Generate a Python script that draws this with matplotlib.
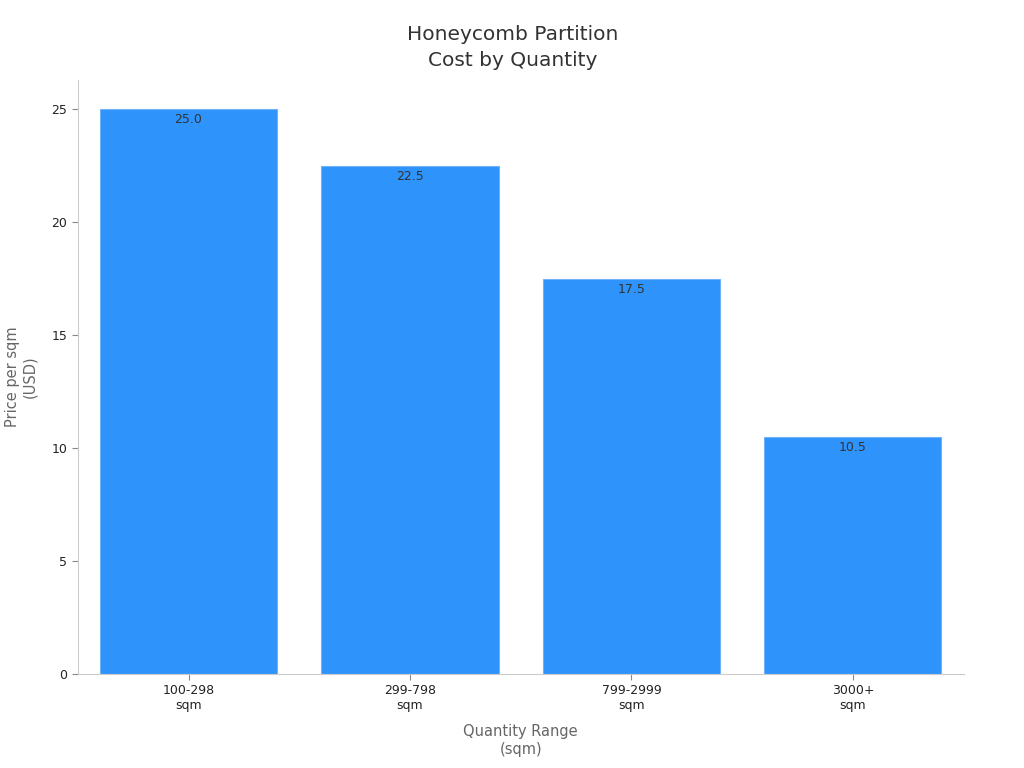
import matplotlib
matplotlib.use("Agg")
import matplotlib.pyplot as plt

categories = ["100-298\nsqm", "299-798\nsqm", "799-2999\nsqm", "3000+\nsqm"]
prices = [25.0, 22.5, 17.5, 10.5]

bar_color = "#2E93FA"
grey = "#666666"

fig, ax = plt.subplots(figsize=(10.24, 7.68), dpi=100)
fig.subplots_adjust(left=0.076, right=0.941, top=0.896, bottom=0.123)

x = range(len(categories))
bars = ax.bar(x, prices, width=0.8, color=bar_color, edgecolor="#6FB4FB", linewidth=0.8)

for b, v in zip(bars, prices):
    ax.text(b.get_x() + b.get_width() / 2, v - 0.18, f"{v:.1f}",
            ha="center", va="top", fontsize=9, color="#333333")

ax.set_xticks(list(x))
ax.set_xticklabels(categories, fontsize=9, color="#222222")
ax.set_xlim(-0.5, 3.5)
ax.set_ylim(0, 26.3)
ax.set_yticks([0, 5, 10, 15, 20, 25])
ax.tick_params(axis="y", labelsize=9, colors="#222222")
ax.tick_params(axis="both", color="#888888", length=4)

for side in ["top", "right"]:
    ax.spines[side].set_visible(False)
for side in ["left", "bottom"]:
    ax.spines[side].set_color("#cccccc")

ax.set_xlabel("Quantity Range\n(sqm)", fontsize=10.5, color=grey, labelpad=9)
ax.set_ylabel("Price per sqm\n(USD)", fontsize=10.5, color=grey, labelpad=10)
# title is centred on the figure, not the axes
ax.set_title("Honeycomb Partition\nCost by Quantity", fontsize=14.5, color="#333333",
             pad=10, linespacing=1.45, x=0.4905)

fig.savefig("out.png", dpi=100)
